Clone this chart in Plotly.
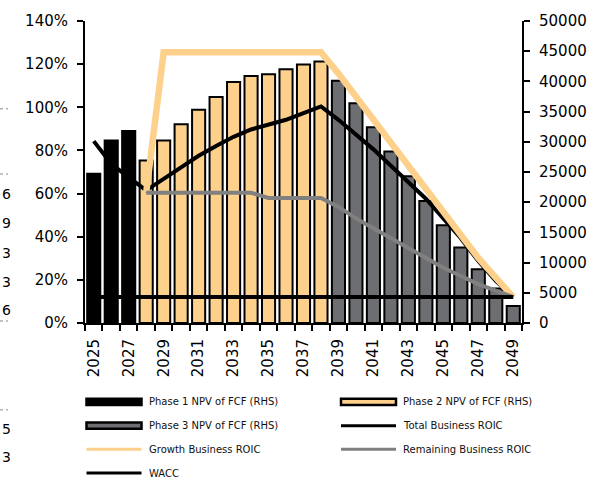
import plotly.graph_objects as go

# ---------------- data ----------------
years = list(range(2025, 2050))

phase1_years = [2025, 2026, 2027]
phase1_npv = [24700, 30200, 31800]

phase2_years = list(range(2028, 2039))
phase2_npv = [26900, 30200, 32900, 35300, 37400, 39900, 40900, 41200, 42000, 42800, 43300]

phase3_years = list(range(2039, 2050))
phase3_npv = [40100, 36400, 32400, 28400, 24300, 20200, 16200, 12500, 8900, 5700, 2800]

total_roic = [0.843, 0.738, 0.675, 0.615, 0.668, 0.721, 0.775, 0.821, 0.863, 0.897,
              0.920, 0.942, 0.973, 1.004, 0.942, 0.874, 0.805, 0.729, 0.653, 0.576,
              0.485, 0.393, 0.287, 0.195, 0.120]

growth_years = list(range(2028, 2050))
growth_roic = [0.604, 1.255, 1.255, 1.255, 1.255, 1.255, 1.255, 1.255, 1.255, 1.255,
               1.255, 1.156, 1.049, 0.935, 0.828, 0.721, 0.622, 0.516, 0.401, 0.302,
               0.210, 0.120]

remaining_years = list(range(2028, 2050))
remaining_roic = [0.604, 0.604, 0.604, 0.604, 0.604, 0.604, 0.604, 0.580, 0.580, 0.580,
                  0.580, 0.538, 0.485, 0.439, 0.393, 0.348, 0.302, 0.256, 0.218, 0.180,
                  0.150, 0.120]

wacc = [0.12] * len(years)

xtick_years = years[::2]

# ---------------- style ----------------
ORANGE = "#FDD08C"
GREY_BAR = "#6D6E71"
GREY_LINE = "#808080"
FONT = "DejaVu Sans"

W, H = 613, 482
ML, MR, MT, MB = 85, 91, 17, 159
PW, PH = W - ML - MR, H - MT - MB


def px(x):
    return (x - ML) / PW


def py(y):
    return (H - MB - y) / PH


fig = go.Figure()

# bars on the base axis (right side), lines on the overlaying axis (left side) so they draw on top
bar_line = dict(color="black", width=2)
fig.add_trace(go.Bar(x=phase1_years, y=phase1_npv, name="Phase 1 NPV of FCF (RHS)",
                     marker=dict(color="black", line=bar_line), yaxis="y"))
fig.add_trace(go.Bar(x=phase2_years, y=phase2_npv, name="Phase 2 NPV of FCF (RHS)",
                     marker=dict(color=ORANGE, line=bar_line), yaxis="y"))
fig.add_trace(go.Bar(x=phase3_years, y=phase3_npv, name="Phase 3 NPV of FCF (RHS)",
                     marker=dict(color=GREY_BAR, line=bar_line), yaxis="y"))

fig.add_trace(go.Scatter(x=years, y=total_roic, mode="lines", name="Total Business ROIC",
                         line=dict(color="black", width=4), yaxis="y2"))
fig.add_trace(go.Scatter(x=growth_years, y=growth_roic, mode="lines", name="Growth Business ROIC",
                         line=dict(color=ORANGE, width=6.5), yaxis="y2"))
fig.add_trace(go.Scatter(x=remaining_years, y=remaining_roic, mode="lines",
                         name="Remaining Business ROIC", line=dict(color=GREY_LINE, width=4),
                         yaxis="y2"))
fig.add_trace(go.Scatter(x=years, y=wacc, mode="lines", name="WACC",
                         line=dict(color="black", width=4), yaxis="y2"))

tickfont = dict(family=FONT, size=15, color="black")

fig.update_layout(
    width=W, height=H,
    margin=dict(l=ML, r=MR, t=MT, b=MB),
    paper_bgcolor="white", plot_bgcolor="white",
    barmode="overlay", bargap=0.25,
    showlegend=False,
    font=dict(family=FONT, color="black"),
    xaxis=dict(
        range=[years[0] - 0.5, years[-1] + 0.5],
        tickvals=xtick_years, ticktext=[str(y) for y in xtick_years],
        tickangle=-90, tickfont=tickfont, ticks="",
        ticklabelstandoff=8,
        showline=True, linecolor="black", linewidth=2,
        showgrid=False, zeroline=False,
        minor=dict(tickvals=[y - 0.5 for y in years] + [years[-1] + 0.5],
                   ticks="outside", ticklen=6, tickwidth=2, tickcolor="black",
                   showgrid=False),
    ),
    yaxis=dict(
        range=[0, 50000], dtick=5000, tickformat="d", side="right",
        tickfont=tickfont, ticks="outside", ticklen=6, tickwidth=2, tickcolor="black",
        ticklabelstandoff=6,
        showline=True, linecolor="black", linewidth=2,
        showgrid=False, zeroline=False,
    ),
    yaxis2=dict(
        range=[0, 1.4], dtick=0.2, tickformat=".0%", side="left", overlaying="y",
        tickfont=tickfont, ticks="outside", ticklen=6, tickwidth=2, tickcolor="black",
        ticklabelstandoff=6,
        showline=True, linecolor="black", linewidth=2,
        showgrid=False, zeroline=False,
    ),
)

# ---------------- custom legend ----------------
legend_items = [
    ("Phase 1 NPV of FCF (RHS)", "bar", "black", 0, 0),
    ("Phase 2 NPV of FCF (RHS)", "bar", ORANGE, 1, 0),
    ("Phase 3 NPV of FCF (RHS)", "bar", GREY_BAR, 0, 1),
    ("Total Business ROIC", "line", "black", 1, 1),
    ("Growth Business ROIC", "line", ORANGE, 0, 2),
    ("Remaining Business ROIC", "line", GREY_LINE, 1, 2),
    ("WACC", "line", "black", 0, 3),
]
col_x = [86.5, 341]
row_y = [403, 427, 451, 475]
sym_w = 55
shapes = []
annotations = []
for label, kind, color, c, r in legend_items:
    x0 = col_x[c]
    yc = row_y[r]
    if kind == "bar":
        shapes.append(dict(type="rect", xref="paper", yref="paper",
                           x0=px(x0), x1=px(x0 + sym_w), y0=py(yc + 3.2), y1=py(yc - 3.2),
                           fillcolor=color, line=dict(color="black", width=2.5)))
    else:
        shapes.append(dict(type="line", xref="paper", yref="paper",
                           x0=px(x0), x1=px(x0 + sym_w), y0=py(yc), y1=py(yc),
                           line=dict(color=color, width=3)))
    annotations.append(dict(xref="paper", yref="paper", x=px(x0 + sym_w + 5), y=py(yc),
                            xanchor="left", yanchor="middle", showarrow=False,
                            text=label, font=dict(family=FONT, size=10, color="#111111")))

# fragments of neighbouring text seen at the left edge of the picture
frag_texts = ["6", "9", "3", "3", "6", "5", "3"]
frag_y = [192, 222, 252, 281, 310, 430, 459]
for t, yy in zip(frag_texts, frag_y):
    annotations.append(dict(xref="paper", yref="paper", x=px(0), y=py(yy),
                            xanchor="left", yanchor="middle", showarrow=False,
                            text=t, font=dict(family=FONT, size=14, color="black")))
for yy in [106, 172, 321, 411]:
    shapes.append(dict(type="line", xref="paper", yref="paper",
                       x0=px(0), x1=px(8), y0=py(yy), y1=py(yy),
                       line=dict(color="#888888", width=1, dash="dot")))

fig.update_layout(shapes=shapes, annotations=annotations)

fig.write_html("out.html")
